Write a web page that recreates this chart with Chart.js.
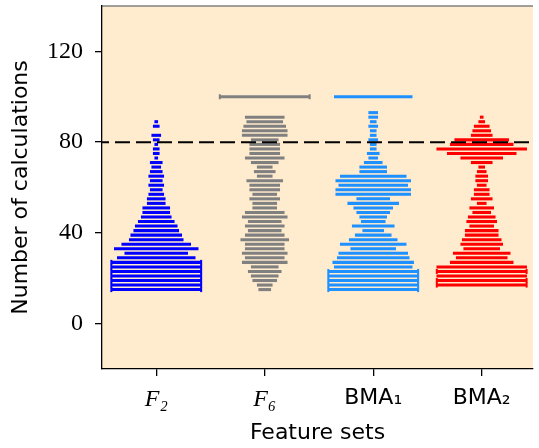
<!DOCTYPE html>
<html>
<head>
<meta charset="utf-8">
<script src="https://cdn.jsdelivr.net/npm/chart.js@4"></script>
<style>
    html, body { margin: 0; padding: 0; background: #fff; }
    canvas { display: block; }
</style>
</head>
<body>
<canvas id="myChart" width="539" height="448"></canvas>
<script>
// values
const featureSets = ['F₂', 'F₆', 'BMA₁', 'BMA₂'];
const calcBins = [15, 17, 19, 21, 23, 25, 27, 29, 31, 33, 35, 37, 39, 41, 43, 45, 47, 49, 51, 53,
    55, 57, 59, 61, 63, 65, 67, 69, 71, 73, 75, 77, 79, 81, 83, 85, 87, 89, 91, 93, 100];
const countsF2 = [36, 40, 38, 42, 39, 34, 32, 26, 21, 28, 23, 18, 17, 15, 14, 12, 10, 9, 9, 6,
    6, 5, 4, 5, 4, 5, 4, 3, 4, 1, 2, 2, 1, 2, 3, 0, 2, 1, 0, 0, 0];
const countsF6 = [4, 5, 8, 9, 11, 9, 15, 13, 15, 13, 13, 16, 13, 11, 13, 11, 15, 13, 8, 8,
    10, 8, 10, 10, 12, 5, 7, 5, 9, 13, 10, 10, 10, 9, 15, 15, 14, 12, 13, 0, 34];
const countsBMA1 = [35, 38, 33, 36, 31, 26, 27, 24, 23, 15, 22, 16, 12, 7, 14, 8, 9, 11, 13, 17,
    11, 25, 25, 23, 25, 22, 9, 9, 6, 3, 4, 2, 2, 3, 2, 2, 3, 2, 3, 3, 26];
const countsBMA2 = [0, 33, 35, 30, 34, 30, 21, 17, 19, 12, 14, 13, 11, 11, 8, 10, 9, 6, 8, 3,
    7, 5, 5, 3, 4, 4, 3, 2, 7, 14, 23, 30, 21, 18, 7, 6, 5, 2, 1, 0, 0];
const yTicks = [0, 40, 80, 120];
const threshold = 80;

const allCounts = [countsF2, countsF6, countsBMA1, countsBMA2];
const colors = ['#0000ff', '#808080', '#1e90ff', '#ff0000'];
const widthPerCount = 0.0276; // category units per count
const maxCount = 30;
const xMin = -0.5, xMax = 3.4727;

function barsFor(i, counts) {
    const out = [];
    counts.forEach((n, k) => {
        if (!n) return;
        const half = Math.min(n, maxCount) * widthPerCount / 2;
        out.push({x: [i - half, i + half], y: calcBins[k]});
    });
    return out;
}

// end markers on the lines that were cut at the maximum width
function capsFor(i, counts) {
    const out = [];
    const half = maxCount * widthPerCount / 2;
    counts.forEach((n, k) => {
        if (n > maxCount) {
            out.push({x: i - half, y: calcBins[k]});
            out.push({x: i + half, y: calcBins[k]});
        }
    });
    return out;
}

const datasets = [{
    type: 'line',
    data: [{x: xMin, y: threshold}, {x: xMax, y: threshold}],
    borderColor: '#000',
    borderWidth: 2,
    borderDash: [15, 6],
    borderDashOffset: 8,
    pointRadius: 0,
    order: 0
}];

allCounts.forEach((counts, i) => {
    datasets.push({
        type: 'bar',
        indexAxis: 'y',
        data: barsFor(i, counts),
        backgroundColor: colors[i],
        borderWidth: 0,
        barThickness: 2.4,
        grouped: false,
        order: 1
    });
    datasets.push({
        type: 'scatter',
        data: capsFor(i, counts),
        pointStyle: 'line',
        rotation: 90,
        radius: 2.5,
        borderWidth: 2,
        borderColor: colors[i],
        backgroundColor: colors[i],
        order: 1
    });
});

const plotBg = {
    id: 'plotBg',
    beforeDraw(chart) {
        const {ctx, chartArea: a} = chart;
        ctx.save();
        ctx.fillStyle = '#ffebcd';
        ctx.fillRect(a.left, a.top, a.right - a.left, a.bottom - a.top);
        ctx.strokeStyle = '#808080';
        ctx.lineWidth = 1.3;
        ctx.beginPath();
        ctx.moveTo(a.left, a.top);
        ctx.lineTo(a.right, a.top);
        ctx.stroke();
        ctx.restore();
    }
};

new Chart(document.querySelector('#myChart'), {
    type: 'scatter',
    data: {datasets: datasets},
    plugins: [plotBg],
    options: {
        responsive: false,
        animation: false,
        layout: {padding: {top: 5, left: 0, right: 0, bottom: 0}},
        plugins: {
            legend: {display: false},
            tooltip: {enabled: false}
        },
        scales: {
            x: {
                type: 'linear',
                min: xMin,
                max: xMax,
                offset: false,
                afterBuildTicks: (s) => { s.ticks = featureSets.map((_, i) => ({value: i})); },
                afterFit: (s) => { s.height = 79; s.paddingLeft = 0; s.paddingRight = 0; },
                ticks: {
                    color: '#000',
                    padding: 9,
                    autoSkip: false,
                    maxRotation: 0,
                    callback: (v) => featureSets[v],
                    font: (ctx) => ctx.index < 2
                        ? {family: 'Liberation Serif', size: 24, style: 'italic'}
                        : {family: 'DejaVu Sans', size: 22}
                },
                grid: {drawOnChartArea: false, offset: false, color: '#000', tickLength: 7, lineWidth: 1.3},
                border: {color: '#000', width: 1.3},
                title: {
                    display: true,
                    text: 'Feature sets',
                    color: '#000',
                    font: {family: 'DejaVu Sans', size: 22},
                    padding: {top: 0, bottom: 2}
                }
            },
            y: {
                type: 'linear',
                min: -20,
                max: 140,
                offset: false,
                afterBuildTicks: (s) => { s.ticks = yTicks.map(v => ({value: v})); },
                afterFit: (s) => { s.width = 102; s.paddingTop = 0; s.paddingBottom = 0; },
                ticks: {
                    color: '#000',
                    padding: 12,
                    font: {family: 'Liberation Serif', size: 24}
                },
                grid: {drawOnChartArea: false, offset: false, color: '#000', tickLength: 7, lineWidth: 1.3},
                border: {color: '#000', width: 1.3},
                title: {
                    display: true,
                    text: 'Number of calculations',
                    color: '#000',
                    font: {family: 'DejaVu Sans', size: 22},
                    padding: {top: 8, bottom: 0}
                }
            }
        }
    }
});
</script>
</body>
</html>
